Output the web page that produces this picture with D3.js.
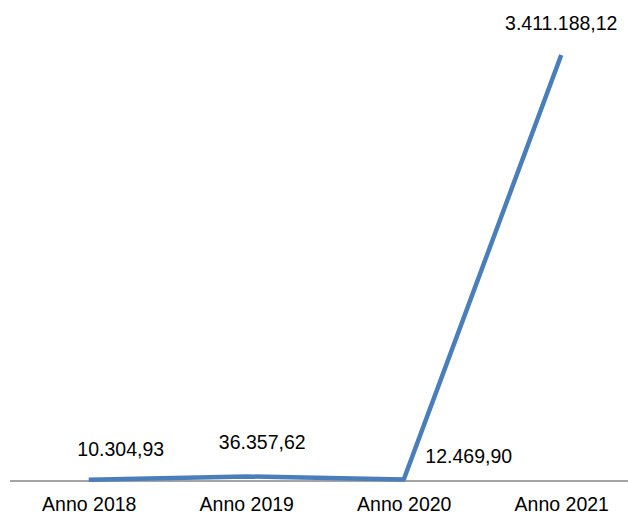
<!DOCTYPE html>
<html><head><meta charset="utf-8">
<script src="https://cdn.jsdelivr.net/npm/d3@7"></script>
<style>html,body{margin:0;padding:0;background:#fff;overflow:hidden}</style>
</head><body>
<svg id="c" width="628" height="515"></svg>
<script>
const categories = ["Anno 2018", "Anno 2019", "Anno 2020", "Anno 2021"];
const values = [10304.93, 36357.62, 12469.90, 3411188.12];
const valueLabels = ["10.304,93", "36.357,62", "12.469,90", "3.411.188,12"];
const labelOffsets = [[32, -24], [16, -27], [65, -16], [0, -25]];

const svg = d3.select("#c");
const font = "'Liberation Sans', Arial, sans-serif";
const x = d3.scalePoint().domain(categories).range([88.75, 561.25]);
const y = d3.scaleLinear().domain([0, 3411188.12]).range([481, 55]);

const axis = d3.axisBottom(x).tickSize(0).tickPadding(19);
const g = svg.append("g").attr("transform", "translate(0,481)").call(axis);
g.select(".domain").remove();
g.selectAll("text").attr("font-family", font).attr("font-size", "19.5px").attr("fill", "#000")
  .attr("y", 29.5).attr("dy", 0);
svg.append("line").attr("x1", 10).attr("x2", 628).attr("y1", 481).attr("y2", 481)
  .attr("stroke", "#868686").attr("stroke-width", 1.5);

const line = d3.line().x((d, i) => x(categories[i])).y(d => y(d));
svg.append("path").datum(values).attr("d", line).attr("fill", "none")
  .attr("stroke", "#4a7ebb").attr("stroke-width", 4.5).attr("stroke-linejoin", "round");

svg.selectAll(".lbl").data(values).enter().append("text")
  .attr("x", (d, i) => x(categories[i]) + labelOffsets[i][0])
  .attr("y", (d, i) => y(d) + labelOffsets[i][1])
  .attr("text-anchor", "middle").attr("font-family", font).attr("font-size", "19.5px").attr("fill", "#000")
  .text((d, i) => valueLabels[i]);
</script>
</body></html>
